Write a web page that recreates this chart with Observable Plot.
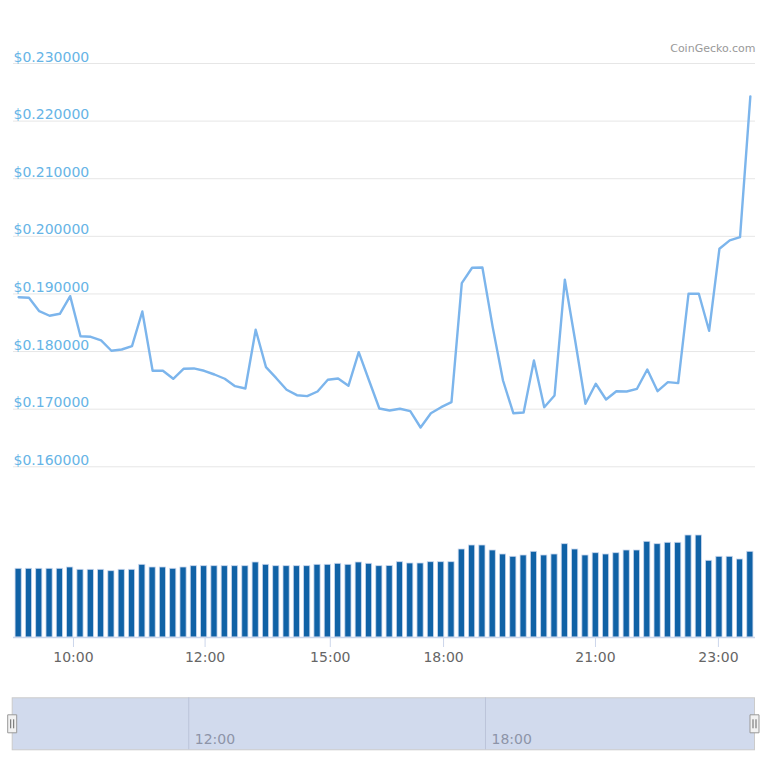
<!DOCTYPE html>
<html>
<head>
<meta charset="utf-8">
<script src="https://cdn.jsdelivr.net/npm/d3@7"></script>
<script src="https://cdn.jsdelivr.net/npm/@observablehq/plot@0.6"></script>
<style>
  html, body { margin: 0; padding: 0; background: #fff; }
  #chart svg { display: block; }
</style>
</head>
<body>
<div id="chart"></div>
<script>
// Price (USD) per sample, left to right
const prices = [
  0.18944, 0.18934, 0.18701, 0.18622, 0.18656, 0.18962, 0.18267, 0.18257, 0.18193, 0.18014,
  0.18036, 0.18094, 0.18696, 0.17667, 0.17667, 0.17528, 0.17701, 0.17707, 0.17667, 0.17602,
  0.17528, 0.17399, 0.17359, 0.18378, 0.17729, 0.17538, 0.17337, 0.17243, 0.17226, 0.17307,
  0.17510, 0.17533, 0.17406, 0.17990, 0.17498, 0.17012, 0.16977, 0.17007, 0.16965, 0.16682,
  0.16930, 0.17035, 0.17122, 0.19188, 0.19455, 0.19460, 0.18424, 0.17498, 0.16930, 0.16943,
  0.17845, 0.17035, 0.17238, 0.19247, 0.18193, 0.17094, 0.17441, 0.17168, 0.17312, 0.17307,
  0.17354, 0.17689, 0.17312, 0.17469, 0.17452, 0.19003, 0.19003, 0.18361, 0.19785, 0.19929,
  0.19986, 0.22429
];
// Volume per sample (arbitrary units)
const volumes = [
  6.87, 6.87, 6.87, 6.87, 6.87, 7.00, 6.77, 6.77, 6.77, 6.63, 6.77, 6.77, 7.27, 7.00, 7.00, 6.87, 7.00, 7.13,
  7.13, 7.13, 7.13, 7.13, 7.13, 7.50, 7.27, 7.13, 7.13, 7.13, 7.13, 7.27, 7.27, 7.37, 7.27, 7.50, 7.37, 7.13,
  7.15, 7.53, 7.40, 7.40, 7.53, 7.53, 7.53, 8.80, 9.20, 9.20, 8.70, 8.30, 8.07, 8.20, 8.57, 8.20, 8.30, 9.33,
  8.80, 8.20, 8.43, 8.30, 8.43, 8.70, 8.70, 9.57, 9.33, 9.47, 9.47, 10.20, 10.20, 7.67, 8.07, 8.07, 7.80, 8.57
];
// Price axis ticks
const priceTicks = [0.16, 0.17, 0.18, 0.19, 0.20, 0.21, 0.22, 0.23];
// Main x-axis tick labels and their positions (in sample index units; the axis is ordinal)
const xTickLabels = ["10:00", "12:00", "15:00", "18:00", "21:00", "23:00"];
const xTickPos = [5.32, 18.09, 30.24, 41.23, 55.97, 67.9];
// Navigator (hours of day)
const navRange = [8.43, 23.44];
const navTicks = [12, 18];
const navTickLabels = ["12:00", "18:00"];
const credit = "CoinGecko.com";

const series = prices.map((p, i) => ({i, price: p, volume: volumes[i]}));
const xDomain = [-0.5, series.length - 0.5];
const font = "'DejaVu Sans', sans-serif";

const pricePlot = Plot.plot({
  width: 768, height: 480,
  marginLeft: 13, marginRight: 13, marginTop: 63, marginBottom: 13.7,
  style: {fontFamily: font, background: "white"},
  x: {domain: xDomain, axis: null},
  y: {domain: [priceTicks[0], priceTicks[priceTicks.length - 1]], axis: null},
  marks: [
    Plot.gridY(priceTicks, {stroke: "#e6e6e6", strokeOpacity: 1, strokeWidth: 1}),
    Plot.text(priceTicks, {y: d => d, text: d => "$" + d.toFixed(6), frameAnchor: "left",
      textAnchor: "start", lineAnchor: "bottom", dy: -2, fill: "#66b4e6", fontSize: 14}),
    Plot.line(series, {x: "i", y: "price", stroke: "#7cb5ec", strokeWidth: 2.4,
      strokeLinejoin: "round", strokeLinecap: "round"}),
    Plot.text([credit], {text: d => d, frameAnchor: "top-right", textAnchor: "end",
      lineAnchor: "bottom", dy: -12, fill: "#999999", fontSize: 11})
  ]
});

const volPlot = Plot.plot({
  width: 768, height: 200,
  marginLeft: 13, marginRight: 13, marginTop: 0, marginBottom: 43,
  style: {fontFamily: font, background: "white"},
  x: {domain: xDomain},
  y: {domain: [0, 15.7], axis: null},
  marks: [
    Plot.rectY(series, {x1: d => d.i - 0.3, x2: d => d.i + 0.3, y: "volume",
      fill: "#1062a6", stroke: "#c9d7ee", strokeWidth: 0.8}),
    Plot.ruleY([0], {stroke: "#ccd6eb", strokeWidth: 1.5}),
    Plot.axisX({ticks: xTickPos, tickFormat: (d) => xTickLabels[xTickPos.indexOf(d)],
      tickSize: 10, tickPadding: 5, stroke: "#ccd6eb", fill: "#666666", fontSize: 14,
      label: null})
  ]
});

const handle = {
  draw(ctx) {
    ctx.rect(-4.5, -9, 9, 18);
  }
};
const grip = {
  draw(ctx) {
    ctx.moveTo(-1.5, -4.5); ctx.lineTo(-1.5, 4.5);
    ctx.moveTo(1.5, -4.5); ctx.lineTo(1.5, 4.5);
  }
};

const navPlot = Plot.plot({
  width: 768, height: 88,
  marginLeft: 11.7, marginRight: 14, marginTop: 17.3, marginBottom: 18.7,
  style: {fontFamily: font, background: "white", overflow: "visible"},
  x: {domain: navRange, axis: null},
  y: {axis: null},
  marks: [
    Plot.frame({fill: "#d1daed", stroke: "#cbcbcb"}),
    Plot.ruleX(navTicks, {stroke: "#bcc4d9", strokeWidth: 1}),
    Plot.text(navTicks, {x: d => d, text: (d, k) => navTickLabels[k], frameAnchor: "bottom",
      textAnchor: "start", lineAnchor: "bottom", dx: 6, dy: -6, fill: "#8d94a8", fontSize: 14}),
    Plot.dot(navRange, {x: d => d, frameAnchor: "middle", symbol: handle, r: 5,
      fill: "#f2f2f2", stroke: "#999999", strokeWidth: 1}),
    Plot.dot(navRange, {x: d => d, frameAnchor: "middle", symbol: grip, r: 5,
      fill: "none", stroke: "#666666", strokeWidth: 1})
  ]
});

const root = document.getElementById("chart");
root.appendChild(pricePlot);
root.appendChild(volPlot);
root.appendChild(navPlot);
</script>
</body>
</html>
